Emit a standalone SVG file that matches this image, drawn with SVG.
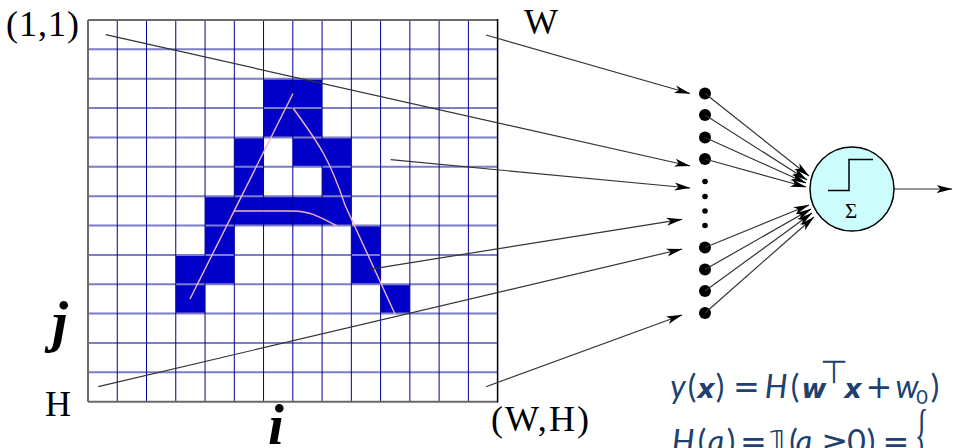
<svg xmlns="http://www.w3.org/2000/svg" width="953" height="448" viewBox="0 0 953 448">
<style>
.cell{fill:#0000c8}
.vl{stroke:#000090;stroke-width:1;fill:none}
.hl{stroke:#7c7cc8;stroke-width:2;fill:none}
.pink{fill:none;stroke:#f4b4c4;stroke-width:1.4}
.conn{fill:none;stroke:#333;stroke-width:1.2;marker-end:url(#ah)}
.dot{fill:#000}
.lbl{font-family:"Liberation Serif","Times New Roman",serif;font-size:36px;fill:#000}
.big{font-family:"Liberation Serif","Times New Roman",serif;font-size:57px;font-weight:bold;font-style:italic;fill:#000}
.f{font-family:Lato,"Liberation Sans",sans-serif;font-size:32px;fill:#20406e;text-anchor:middle}
.it{font-style:italic}
.bi{font-family:"DejaVu Sans",sans-serif;font-size:27px;font-style:italic;font-weight:bold}
.op{font-family:"DejaVu Sans",sans-serif;font-size:32px}
</style>
<defs>
<marker id="ah" markerUnits="userSpaceOnUse" viewBox="0 0 16 10" refX="15.5" refY="5" markerWidth="16" markerHeight="10" orient="auto">
<path d="M0,1 L16,5 L0,9 L4,5 z" fill="#000"/>
</marker>
</defs>
<rect width="953" height="448" fill="#fff"/>
<g id="image-grid">
<rect class="cell" x="263.56" y="78.72" width="58.52" height="58.72"/>
<rect class="cell" x="234.3" y="137.44" width="29.26" height="58.72"/>
<rect class="cell" x="292.82" y="137.44" width="58.52" height="29.36"/>
<rect class="cell" x="322.08" y="166.8" width="29.26" height="29.36"/>
<rect class="cell" x="205.04" y="196.16" width="146.3" height="29.36"/>
<rect class="cell" x="205.04" y="225.52" width="29.26" height="58.72"/>
<rect class="cell" x="175.78" y="254.88" width="29.26" height="58.72"/>
<rect class="cell" x="351.34" y="225.52" width="29.26" height="58.72"/>
<rect class="cell" x="380.6" y="284.24" width="29.26" height="29.36"/>
<path class="hl" d="M88,49.36H497.6M88,78.72H497.6M88,108.08H497.6M88,137.44H497.6M88,166.8H497.6M88,196.16H497.6M88,225.52H497.6M88,254.88H497.6M88,284.24H497.6M88,313.6H497.6M88,342.96H497.6M88,372.32H497.6"/>
<path class="vl" d="M117.26,20V401.7M146.52,20V401.7M175.78,20V401.7M205.04,20V401.7M234.3,20V401.7M263.56,20V401.7M292.82,20V401.7M322.08,20V401.7M351.34,20V401.7M380.6,20V401.7M409.86,20V401.7M439.12,20V401.7M468.38,20V401.7"/>
<path d="M88,20H497.6M88,20V401.7M88,401.7H497.6" stroke="#6a6a6a" stroke-width="2" fill="none"/>
<path d="M497.6,19V402.5" stroke="#000" stroke-width="1.5" fill="none"/>
<path class="pink" d="M190,299L293,93.5"/>
<path class="pink" d="M293,108C320,145 330,160 345,205L395,314"/>
<path class="pink" d="M234,211L293,211C310,211 320,217 337,226"/>
</g>
<g id="labels">
<text class="lbl" x="6" y="36" textLength="73">(1,1)</text>
<text class="lbl" x="524" y="34">W</text>
<text class="lbl" x="45" y="416">H</text>
<text class="lbl" x="491" y="431" textLength="98">(W,H)</text>
<text class="big" x="52" y="341">j</text>
<text class="big" x="268" y="444">i</text>
</g>
<g id="inputs">
<circle class="dot" cx="705" cy="93.5" r="6"/>
<circle class="dot" cx="705" cy="115" r="6"/>
<circle class="dot" cx="705" cy="137.5" r="6"/>
<circle class="dot" cx="705" cy="159" r="6"/>
<circle class="dot" cx="705" cy="181.5" r="2.8"/>
<circle class="dot" cx="705" cy="196.5" r="2.8"/>
<circle class="dot" cx="705" cy="211" r="2.8"/>
<circle class="dot" cx="705" cy="225.5" r="2.8"/>
<circle class="dot" cx="705" cy="247.5" r="6"/>
<circle class="dot" cx="705" cy="269.5" r="6"/>
<circle class="dot" cx="705" cy="291" r="6"/>
<circle class="dot" cx="705" cy="313" r="6"/>
</g>
<g id="connectors">
<path class="conn" d="M486,35L690,93.5"/>
<path class="conn" d="M105.7,34.7L690,166"/>
<path class="conn" d="M390.7,159.7L690,188"/>
<path class="conn" d="M369.3,269.3L682,219.3"/>
<path class="conn" d="M98.3,386.7L682,249"/>
<path class="conn" d="M486,386.7L682,315"/>
<path class="conn" d="M705,93.5L809,176"/>
<path class="conn" d="M705,115L807,180"/>
<path class="conn" d="M705,137.5L806,183"/>
<path class="conn" d="M705,159L806,187"/>
<path class="conn" d="M705,247.5L809,205"/>
<path class="conn" d="M705,269.5L811,209"/>
<path class="conn" d="M705,291L812,213"/>
<path class="conn" d="M705,313L814,217"/>
<path class="conn" d="M894,189L952,189"/>
</g>
<g id="neuron">
<circle cx="852" cy="189" r="42" fill="#ccfcfc" stroke="#000" stroke-width="1.5"/>
<path d="M828,190.5H849V159.5H873" fill="none" stroke="#000" stroke-width="1.5"/>
<text x="851" y="218" text-anchor="middle" font-family="Liberation Serif, serif" font-size="21">Σ</text>
</g>
<g id="formula" class="f">
<text y="398"><tspan x="678" class="it">y</tspan><tspan x="692">(</tspan><tspan x="706" class="bi">x</tspan><tspan x="720">)</tspan><tspan x="746.5" class="op">=</tspan><tspan x="776" class="it">H</tspan><tspan x="795">(</tspan><tspan x="814" class="bi">w</tspan><tspan x="834" y="383" class="op" font-size="17">⊤</tspan><tspan x="853" y="398" class="bi">x</tspan><tspan x="879" class="op">+</tspan><tspan x="907" class="it">w</tspan><tspan x="922" y="404" font-size="20">0</tspan><tspan x="935" y="398">)</tspan></text>
<text y="453"><tspan x="683" class="it">H</tspan><tspan x="702">(</tspan><tspan x="716" class="it">a</tspan><tspan x="731">)</tspan><tspan x="753.3" class="op">=</tspan><tspan x="779" class="op">𝟙</tspan><tspan x="793.5">(</tspan><tspan x="804" class="it">a</tspan><tspan x="835" class="op">≥</tspan><tspan x="856.5">0</tspan><tspan x="871">)</tspan><tspan x="896" class="op">=</tspan></text>
<text transform="translate(915,458) scale(0.4,1)" font-family="Liberation Serif, serif" font-size="70" text-anchor="start">{</text>
</g>
</svg>
